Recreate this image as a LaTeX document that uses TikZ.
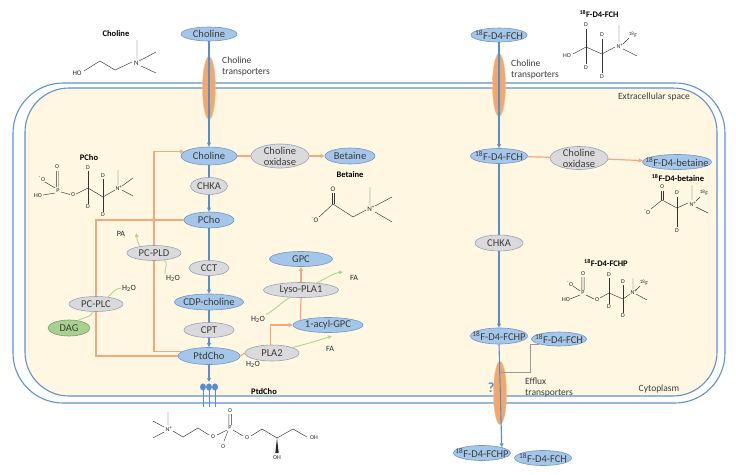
\documentclass[tikz,border=0pt]{standalone}
\usepackage{fontspec}
\setmainfont{Carlito}
\usetikzlibrary{shapes.geometric,arrows.meta}

\definecolor{memblue}{RGB}{96,146,204}
\definecolor{flowblue}{RGB}{84,141,212}
\definecolor{metfill}{RGB}{164,198,232}
\definecolor{metedge}{RGB}{112,150,200}
\definecolor{enzfill}{RGB}{218,218,220}
\definecolor{enzedge}{RGB}{150,162,185}
\definecolor{dagfill}{RGB}{169,209,142}
\definecolor{dagedge}{RGB}{118,160,110}
\definecolor{convorange}{RGB}{244,168,126}
\definecolor{transfill}{RGB}{242,168,108}
\definecolor{sidegreen}{RGB}{176,212,150}
\definecolor{cream}{RGB}{255,247,226}
\definecolor{txt}{RGB}{60,60,60}

\tikzset{
  met/.style={ellipse, draw=metedge, fill=metfill, line width=0.6pt, inner sep=-8pt,
    text=txt, font=\fontsize{10.5}{11}\selectfont},
  enz/.style={met, draw=enzedge, fill=enzfill},
  dagnode/.style={met, draw=dagedge, fill=dagfill},
  trans/.style={ellipse, fill=transfill, draw=transfill!70!white, minimum width=13pt,
    minimum height=63pt, inner sep=0pt},
  flow/.style={draw=flowblue, line width=1.1pt},
  conv/.style={draw=convorange, line width=1.2pt},
  side/.style={draw=sidegreen, line width=0.9pt},
  effl/.style={draw=black!40, line width=0.6pt},
  tip/.style={-{Triangle[length=4pt,width=3.6pt]}},
  lab/.style={font=\fontsize{9.5}{11}\selectfont, text=txt, inner sep=0pt},
  small/.style={font=\fontsize{8}{9}\selectfont, text=black!85, inner sep=1pt},
  mol/.style={font=\bfseries\fontsize{8.5}{9}\selectfont, inner sep=0pt},
  atm/.style={font=\fontsize{6}{6.5}\selectfont, inner sep=0pt, text=black!85},
  bnd/.style={draw=black!80, line width=0.45pt},
}

\begin{document}
\begin{tikzpicture}[x=1pt,y=-1pt]
  \useasboundingbox (0,0) rectangle (736,474);

  % cell membrane
  \draw[memblue, line width=1.1pt, fill=white, rounded corners=50pt] (13,83) rectangle (725,403);
  \draw[memblue, line width=1.1pt, fill=cream, rounded corners=44pt] (25,88) rectangle (717,396);

  % transporters
  \node[trans] (trA) at (209,88) {};
  \node[trans] (trB) at (499,85) {};
  \node[trans] (trC) at (500,393) {};

  % left pathway
  \node[met, minimum width=56pt, minimum height=14pt] (chol0) at (209,34) {Choline};
  \node[met, minimum width=56pt, minimum height=18pt] (chol) at (209,156) {Choline};
  \node[enz, minimum width=58pt, minimum height=24pt, align=center] (choxA) at (280,156) {Choline\\oxidase};
  \node[met, minimum width=50pt, minimum height=16pt] (bet) at (350,156) {Betaine};
  \node[enz, minimum width=37pt, minimum height=17pt] (chkaA) at (209,186) {CHKA};
  \node[met, minimum width=50pt, minimum height=16pt] (pcho) at (209,220) {PCho};
  \node[enz, minimum width=54pt, minimum height=15pt] (pcpld) at (154,253) {PC-PLD};
  \node[enz, minimum width=40pt, minimum height=15pt] (cct) at (209,268) {CCT};
  \node[met, minimum width=69pt, minimum height=16pt] (cdp) at (209,302) {CDP-choline};
  \node[enz, minimum width=50pt, minimum height=15pt] (cpt) at (209,330) {CPT};
  \node[met, minimum width=62pt, minimum height=17pt] (ptd) at (209,356) {PtdCho};
  \node[enz, minimum width=54pt, minimum height=15pt] (pcplc) at (96,304) {PC-PLC};
  \node[dagnode, minimum width=42pt, minimum height=16pt] (dag) at (69,328) {DAG};
  \node[met, minimum width=63pt, minimum height=15pt] (gpc) at (301,259) {GPC};
  \node[enz, minimum width=75pt, minimum height=15pt] (lyso) at (301,290) {Lyso-PLA1};
  \node[met, minimum width=70pt, minimum height=15pt] (acyl) at (328,325) {1-acyl-GPC};
  \node[enz, minimum width=54pt, minimum height=16pt] (pla2) at (272,353) {PLA2};

  % right pathway
  \node[met, minimum width=56pt, minimum height=14pt] (fch0) at (499,35) {\textsuperscript{18}F-D4-FCH};
  \node[met, minimum width=57pt, minimum height=15pt] (fch) at (499,156) {\textsuperscript{18}F-D4-FCH};
  \node[enz, minimum width=58pt, minimum height=23pt, align=center] (choxB) at (579,158) {Choline\\oxidase};
  \node[met, minimum width=69pt, minimum height=15pt] (fbet) at (677,162) {\textsuperscript{18}F-D4-betaine};
  \node[enz, minimum width=48pt, minimum height=16pt] (chkaB) at (499,243) {CHKA};
  \node[met, minimum width=57pt, minimum height=16pt] (fchp) at (499,336) {\textsuperscript{18}F-D4-FCHP};
  \node[met, minimum width=55pt, minimum height=14pt] (fchin) at (559,339) {\textsuperscript{18}F-D4-FCH};
  \node[met, minimum width=57pt, minimum height=15pt] (fchp1) at (482,453) {\textsuperscript{18}F-D4-FCHP};
  \node[met, minimum width=57pt, minimum height=15pt] (fch1) at (543,458) {\textsuperscript{18}F-D4-FCH};

  % labels
  \node[lab, anchor=west, align=left] (ctA) at (222,66) {Choline\\transporters};
  \node[lab, anchor=west, align=left] (ctB) at (511,69) {Choline\\transporters};
  \node[lab, anchor=west, align=left] (eft) at (525,387) {Efflux\\transporters};
  \node[lab] (extra) at (654,97) {Extracellular space};
  \node[lab] (cyto) at (659,389) {Cytoplasm};
  \node[font=\bfseries\fontsize{14}{14}\selectfont, text=flowblue, inner sep=0pt] (qm) at (491,388) {?};
  \node[small] (pa) at (121,234) {PA};
  \node[small] (h2oa) at (173,278) {H\textsubscript{2}O};
  \node[small] (h2ob) at (129,288) {H\textsubscript{2}O};
  \node[small] (h2oc) at (258,319) {H\textsubscript{2}O};
  \node[small] (h2od) at (253,364) {H\textsubscript{2}O};
  \node[small] (fa1) at (354,278) {FA};
  \node[small] (fa2) at (330,349) {FA};
  \coordinate (patip) at (136,233);
  \coordinate (fa1tip) at (343,272);
  \coordinate (fa2tip) at (332,336);
  \coordinate (effin) at (501,372);

  % blue main flow
  \draw[flow, tip] (chol0) -- (chol);
  \draw[flow] (chol) -- (chkaA);
  \draw[flow, tip] (chkaA) -- (pcho);
  \draw[flow] (pcho) -- (cct);
  \draw[flow, tip] (cct) -- (cdp);
  \draw[flow] (cdp) -- (cpt);
  \draw[flow, tip] (cpt) -- (ptd);
  \draw[flow, tip] (fch0) -- (fch);
  \draw[flow] (fch) -- (chkaB);
  \draw[flow, tip] (chkaB) -- (fchp);
  \draw[flow, tip] (fchp.south) -- (fchp1.16);

  % PtdCho in the membrane
  \foreach \hx in {203,209,215} {
    \draw[flow, line width=0.9pt] (\hx,387) -- (\hx,407);
    \fill[flowblue] (\hx,387) ellipse (3pt and 3.6pt);
  }
  \draw[flow, tip] (ptd) -- (209,382);

  % orange side routes
  \draw[conv] (chol) -- (choxA);
  \draw[conv, tip] (choxA) -- (bet);
  \draw[conv] (fch) -- (choxB);
  \draw[conv, tip] (choxB) -- (fbet);
  \draw[conv] (pcpld.south) |- (ptd.170);
  \draw[conv, tip] (pcpld.north) |- (chol.170);
  \draw[conv] (pcplc.south) |- (ptd.west);
  \draw[conv] (pcplc.north) |- (pcho.west);
  \draw[conv] (ptd.east) -- (pla2.west);
  \draw[conv, tip] (pla2.100) |- (acyl.west);
  \draw[conv] (acyl.170) -- (lyso.south);
  \draw[conv, tip] (lyso.north) -- (gpc.south);

  % green side products
  \draw[side, tip] (pcpld.155) .. controls +(-3,-6) and +(1,5) .. (patip);
  \draw[side] (h2oa.north west) .. controls +(0,-6) and +(4,3) .. (pcpld.-35);
  \draw[side] (pcplc.30) .. controls +(4,-4) and +(-5,0) .. (h2ob.west);
  \draw[side] (pcplc.-110) .. controls +(-1,5) and +(3,-2) .. (dag.40);
  \draw[side] (h2oc.north east) .. controls +(8,-4) and +(-6,2) .. (lyso.-145);
  \draw[side, tip] (lyso.25) .. controls +(10,-4) and +(-10,1) .. (fa1tip);
  \draw[side, tip] (pla2.15) .. controls +(12,-3) and +(-12,4) .. (fa2tip);

  % efflux
  \draw[effl] (fchin.south west) -- ++(-9,0) |- (effin);

  % choline
  \node[mol] (mchol) at (116,34) {Choline};
  \node[atm, font=\fontsize{7}{7}\selectfont] (cho1) at (77,73) {HO};
  \node[atm, font=\fontsize{7}{7}\selectfont] (chn1) at (138,63) {N\textsuperscript{+}};
  \draw[bnd] (84,71) -- (100,61) -- (115,70) -- (132,62);
  \draw[bnd] (137,59) -- (137,40) (141,60) -- (156,52) (141,66) -- (156,73);

  % PCho
  \node[mol] (mpcho) at (89,158) {PCho};
  \node[atm] at (42,179) {\textsuperscript{-}O};
  \node[atm] at (38,196) {HO};
  \node[atm] at (57,167) {O};
  \node[atm] at (58,191) {P};
  \node[atm] at (73,195) {O};
  \node[atm] at (88,168) {D};
  \node[atm] at (88,207) {D};
  \node[atm] at (103,176) {D};
  \node[atm] at (103,215) {D};
  \node[atm] at (119,188) {N\textsuperscript{+}};
  \draw[bnd] (45,182) -- (55,188) (43,195) -- (55,193)
    (56.3,171) -- (56.3,187) (58.5,171) -- (58.5,187) (61,192) -- (70,194.5);
  \draw[bnd] (76,194) -- (88,188) -- (103,197) -- (115,190);
  \draw[bnd] (88,188) -- (88,171) (88,188) -- (88,204) (103,197) -- (103,179) (103,197) -- (103,212);
  \draw[bnd] (118,185) -- (118,170) (122,186) -- (133,178) (122,190) -- (133,196);

  % betaine
  \node[mol] (mbet) at (350,175) {Betaine};
  \node[atm, font=\fontsize{7}{7}\selectfont] at (333,189) {O};
  \node[atm, font=\fontsize{7}{7}\selectfont] at (315,220) {\textsuperscript{-}O};
  \node[atm, font=\fontsize{7}{7}\selectfont] at (371,209) {N\textsuperscript{+}};
  \draw[bnd] (319,217) -- (333,204) -- (353,217) -- (366,210);
  \draw[bnd] (331.8,204) -- (331.8,193) (334.3,204) -- (334.3,193);
  \draw[bnd] (370,205) -- (370,187) (375,206) -- (392,197) (375,212) -- (392,222);

  % 18F-D4-FCH
  \node[mol] (mfch) at (599,14) {\textsuperscript{18}F-D4-FCH};
  \node[atm] at (567,56) {HO};
  \node[atm] at (586,25) {D};
  \node[atm] at (586,68) {D};
  \node[atm] at (602,35) {D};
  \node[atm] at (602,77) {D};
  \node[atm] at (620,46) {N\textsuperscript{+}};
  \node[atm] at (633,35) {\textsuperscript{18}F};
  \draw[bnd] (573,54) -- (586,47) -- (602,54) -- (615,47);
  \draw[bnd] (586,47) -- (586,29) (586,47) -- (586,64) (602,54) -- (602,39) (602,54) -- (602,73);
  \draw[bnd] (619,42) -- (619,25) (623,44) -- (629,38) (623,49) -- (637,56);

  % 18F-D4-betaine
  \node[mol] (mfbet) at (678,178) {\textsuperscript{18}F-D4-betaine};
  \node[atm] at (662,187) {O};
  \node[atm] at (647,212) {\textsuperscript{-}O};
  \node[atm] at (677,193) {D};
  \node[atm] at (677,231) {D};
  \node[atm] at (693,204) {N\textsuperscript{+}};
  \node[atm] at (704,193) {\textsuperscript{18}F};
  \draw[bnd] (651,209) -- (662,200) -- (677,208) -- (688,203);
  \draw[bnd] (660.8,200) -- (660.8,191) (663.3,200) -- (663.3,191);
  \draw[bnd] (677,208) -- (677,197) (677,208) -- (677,227);
  \draw[bnd] (692,200) -- (692,185) (696,201) -- (700,197) (696,207) -- (708,213);

  % 18F-D4-FCHP
  \node[mol] (mfchp) at (606,263) {\textsuperscript{18}F-D4-FCHP};
  \node[atm] at (583,274) {O};
  \node[atm] at (570,284) {\textsuperscript{-}O};
  \node[atm] at (583,293) {P};
  \node[atm] at (566,300) {HO};
  \node[atm] at (597,300) {O};
  \node[atm] at (609,275) {D};
  \node[atm] at (609,307) {D};
  \node[atm] at (623,282) {D};
  \node[atm] at (623,316) {D};
  \node[atm] at (634,292) {N\textsuperscript{+}};
  \node[atm] at (644,283) {\textsuperscript{18}F};
  \draw[bnd] (581.9,277) -- (581.9,290) (584.2,277) -- (584.2,290)
    (573,286) -- (580,291) (570,299) -- (580,295) (586,295) -- (594,299);
  \draw[bnd] (600,298) -- (609,293) -- (623,299) -- (630,294);
  \draw[bnd] (609,293) -- (609,278) (609,293) -- (609,304) (623,299) -- (623,285) (623,299) -- (623,313);
  \draw[bnd] (633,289) -- (633,278) (636,290) -- (640,286) (636,294) -- (647,300);

  % PtdCho
  \node[mol] (mptd) at (264,392) {PtdCho};
  \node[atm] at (169,429) {N\textsuperscript{+}};
  \node[atm] at (213,437) {O};
  \node[atm] at (230,428) {P};
  \node[atm] at (230,411) {O};
  \node[atm] at (222,446) {\textsuperscript{-}O};
  \node[atm] at (247,438) {O};
  \node[atm] at (277,458) {OH};
  \node[atm] at (314,438) {OH};
  \draw[bnd] (168,425) -- (168,412) (164,427) -- (153,421) (164,432) -- (153,438);
  \draw[bnd] (173,431) -- (183,437) -- (198,428) -- (209,435) (217,435) -- (227,430);
  \draw[bnd] (228.8,425) -- (228.8,414) (231.3,425) -- (231.3,414) (228,431) -- (224,441) (233,430) -- (243,436);
  \draw[bnd] (251,436) -- (262,429) -- (277,438) -- (293,429) -- (307,437);
  \fill[black!85] (277,438) -- (275.3,453) -- (278.7,453) -- cycle;
\end{tikzpicture}
\end{document}
